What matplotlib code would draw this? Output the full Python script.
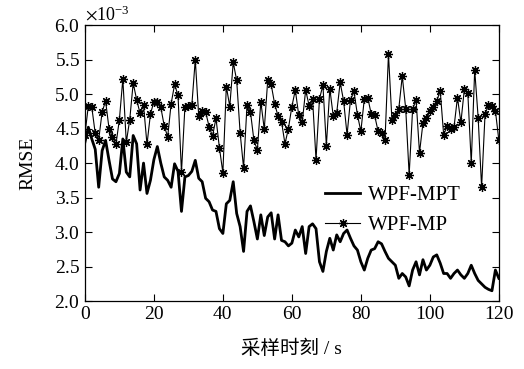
import matplotlib
matplotlib.use('Agg')
import matplotlib.pyplot as plt
from matplotlib.ticker import ScalarFormatter

plt.rcParams['font.family'] = ['Liberation Serif', 'Noto Sans CJK SC']
plt.rcParams['mathtext.fontset'] = 'stix'

# sample times
t = list(range(0, 121))

# RMSE of WPF-MPT (x1e-3)
wpf_mpt = [4.30, 4.52, 4.35, 4.20, 3.65, 4.18, 4.33, 4.04, 3.77, 3.73,
           3.85, 4.35, 3.87, 3.80, 4.40, 4.28, 3.61, 4.00, 3.56, 3.75,
           4.05, 4.24, 4.00, 3.80, 3.75, 3.65, 3.99, 3.88, 3.30, 3.80,
           3.82, 3.88, 4.04, 3.78, 3.73, 3.49, 3.44, 3.32, 3.30, 3.05,
           2.98, 3.41, 3.46, 3.73, 3.27, 3.08, 2.72, 3.30, 3.38, 3.15,
           2.90, 3.25, 2.95, 3.22, 3.28, 2.90, 3.25, 2.88, 2.86, 2.80,
           2.84, 3.03, 2.93, 3.08, 2.69, 3.08, 3.12, 3.05, 2.57, 2.43,
           2.72, 2.91, 2.74, 2.96, 2.86, 2.98, 3.03, 2.91, 2.80, 2.74,
           2.57, 2.45, 2.62, 2.74, 2.76, 2.86, 2.83, 2.72, 2.62, 2.57,
           2.52, 2.33, 2.40, 2.35, 2.22, 2.45, 2.57, 2.38, 2.60, 2.45,
           2.52, 2.64, 2.67, 2.55, 2.40, 2.40, 2.33, 2.40, 2.45, 2.38,
           2.33, 2.40, 2.52, 2.40, 2.30, 2.25, 2.20, 2.17, 2.15, 2.45,
           2.33]

# RMSE of WPF-MP (x1e-3)
wpf_mp = [4.41, 4.83, 4.81, 4.43, 4.34, 4.74, 4.90, 4.50, 4.38, 4.27,
          4.63, 5.22, 4.30, 4.63, 5.16, 4.92, 4.72, 4.84, 4.27, 4.71,
          4.89, 4.89, 4.81, 4.54, 4.38, 4.86, 5.14, 4.98, 3.87, 4.82,
          4.83, 4.84, 5.50, 4.68, 4.76, 4.74, 4.53, 4.39, 4.65, 4.22,
          3.86, 5.11, 4.82, 5.46, 5.20, 4.44, 3.93, 4.84, 4.74, 4.33,
          4.19, 4.89, 4.49, 5.20, 5.14, 4.86, 4.68, 4.60, 4.28, 4.50,
          4.82, 5.06, 4.69, 4.59, 5.06, 4.83, 4.93, 4.05, 4.93, 5.13,
          4.25, 5.08, 4.68, 4.73, 5.17, 4.90, 4.41, 4.92, 5.04, 4.70,
          4.46, 4.93, 4.95, 4.71, 4.69, 4.46, 4.44, 4.33, 5.58, 4.63,
          4.69, 4.79, 5.26, 4.79, 3.83, 4.78, 4.92, 4.15, 4.58, 4.66,
          4.76, 4.81, 4.90, 5.05, 4.41, 4.54, 4.49, 4.52, 4.95, 4.59,
          5.07, 5.02, 4.00, 5.35, 4.66, 3.65, 4.71, 4.84, 4.83, 4.76,
          4.33]

xticks = [0, 20, 40, 60, 80, 100, 120]
yticks = [2.0, 2.5, 3.0, 3.5, 4.0, 4.5, 5.0, 5.5, 6.0]

fig = plt.figure(figsize=(5.24, 3.69), dpi=100)
ax = fig.add_axes([0.162, 0.184, 0.79, 0.748])

ax.plot(t, [v * 1e-3 for v in wpf_mpt], color='black', linewidth=2.0, label='WPF-MPT')
ax.plot(t, [v * 1e-3 for v in wpf_mp], color='black', linewidth=0.8,
        marker=(8, 2, 0), markersize=6.5, markeredgewidth=0.9, label='WPF-MP')

ax.set_xlim(0, 120)
ax.set_ylim(2.0e-3, 6.0e-3)
ax.set_xticks(xticks)
ax.set_yticks([y * 1e-3 for y in yticks])

fmt = ScalarFormatter(useMathText=True)
fmt.set_powerlimits((-2, 2))
ax.yaxis.set_major_formatter(fmt)
ax.yaxis.get_offset_text().set_fontsize(13)

ax.tick_params(direction='in', length=5, width=0.8, top=True, right=True, labelsize=14)
for s in ax.spines.values():
    s.set_linewidth(0.9)

ax.set_xlabel('采样时刻 / s', fontsize=14, labelpad=12)
ax.set_ylabel('RMSE', fontsize=14, labelpad=13)

ax.legend(loc='upper left', bbox_to_anchor=(0.56, 0.45), frameon=False, fontsize=15,
          handlelength=1.7, handletextpad=0.35, labelspacing=0.5, numpoints=1,
          borderaxespad=0)

fig.savefig('out.png', dpi=100)
